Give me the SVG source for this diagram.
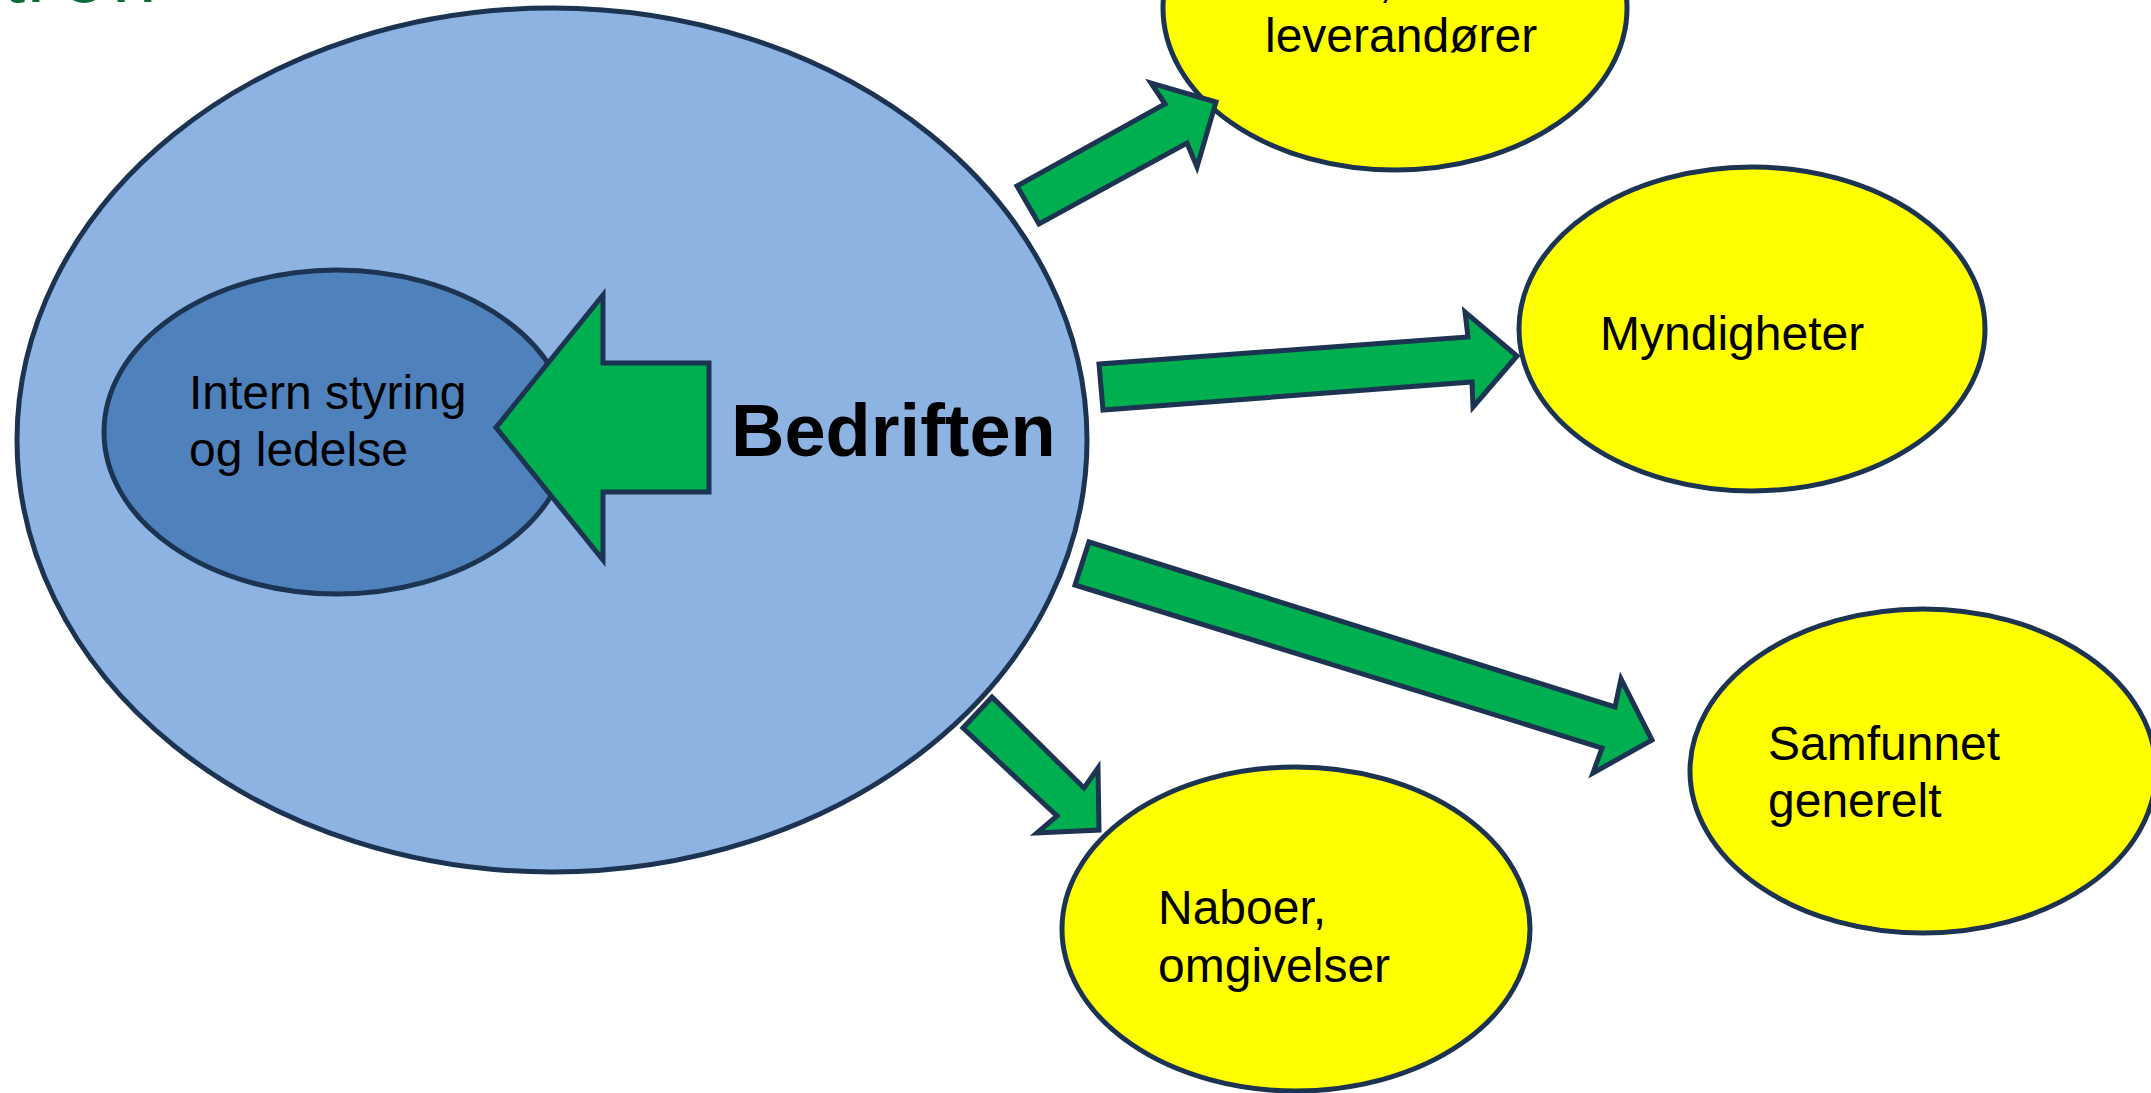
<svg xmlns="http://www.w3.org/2000/svg" width="2151" height="1093" viewBox="0 0 2151 1093">
  <style>
    .outline { stroke: #1C3352; stroke-width: 5; stroke-linejoin: miter; }
    .company { fill: #8DB3E2; }
    .inner { fill: #4F81BD; }
    .party { fill: #FFFF00; }
    .arrow { fill: #00B050; }
    .label { font-family: "Liberation Sans", Arial, sans-serif; font-size: 48px; fill: #000000; }
    .title { font-family: "Liberation Sans", Arial, sans-serif; font-size: 74px; font-weight: bold; fill: #000000; }
    .heading { font-family: "Liberation Sans", Arial, sans-serif; font-size: 80px; fill: #0B6B35; }
  </style>

  <rect width="2151" height="1093" fill="#FFFFFF"/>

  <!-- Slide heading, running off the top edge -->
  <text class="heading" x="3 27 62 112" y="2">tion</text>

  <!-- The company -->
  <g id="bedriften">
    <ellipse class="company outline" cx="552" cy="440" rx="535" ry="432"/>
    <text class="title" x="731" y="456">Bedriften</text>
  </g>

  <!-- Internal management, inside the company -->
  <g id="intern-styring">
    <ellipse class="inner outline" cx="337" cy="432" rx="233" ry="162"/>
    <text class="label" x="189" y="409">Intern styring</text>
    <text class="label" x="189" y="466">og ledelse</text>
  </g>

  <!-- External parties -->
  <g id="leverandorer">
    <ellipse class="party outline" cx="1395" cy="8" rx="232" ry="162"/>
    <text class="label" x="1392" y="-3" text-anchor="end">Kunder,</text>
    <text class="label" x="1265" y="52">leverandører</text>
  </g>

  <g id="myndigheter">
    <ellipse class="party outline" cx="1752" cy="329" rx="233" ry="162"/>
    <text class="label" x="1600" y="350">Myndigheter</text>
  </g>

  <g id="samfunnet">
    <ellipse class="party outline" cx="1923" cy="771" rx="233" ry="162"/>
    <text class="label" x="1768" y="760">Samfunnet</text>
    <text class="label" x="1768" y="817">generelt</text>
  </g>

  <g id="naboer">
    <ellipse class="party outline" cx="1296" cy="929" rx="234" ry="162"/>
    <text class="label" x="1158" y="924">Naboer,</text>
    <text class="label" x="1158" y="982">omgivelser</text>
  </g>

  <!-- Block arrows -->
  <g id="connectors">
    <polygon class="arrow outline" points="709,363 603,363 603,295 496,427.5 603,560 603,492 709,492"/>
    <polygon class="arrow outline" points="1039,224 1017,186 1165,104 1151,83 1216,102 1197,167 1187,143"/>
    <polygon class="arrow outline" points="1099,364 1468,337 1465,312 1517,356 1473,407 1472,382 1103,410"/>
    <polygon class="arrow outline" points="1089,542 1615,707 1621,679 1652,740 1593,773 1602,748 1075,585"/>
    <polygon class="arrow outline" points="992,697 1084,788 1098,768 1099,830 1037,833 1057,816 963,728"/>
  </g>
</svg>
